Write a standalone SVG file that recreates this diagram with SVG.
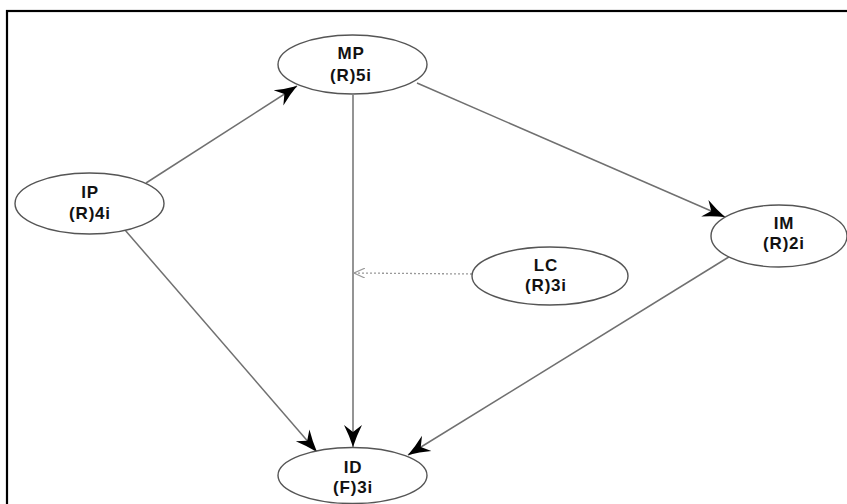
<svg xmlns="http://www.w3.org/2000/svg" width="847" height="504" viewBox="0 0 847 504">
<style>
.node ellipse{fill:#fff;stroke:#555;stroke-width:1.4}
.node text{font-family:"Liberation Sans",Arial,sans-serif;font-weight:bold;font-size:17px;fill:#111;text-anchor:middle;letter-spacing:0.8px}
.edge{stroke:#707070;stroke-width:1.5;fill:none}
.dot{stroke:#999;stroke-width:1.3;fill:none;stroke-dasharray:2 2}
</style>
<defs>
<marker id="arr" markerUnits="userSpaceOnUse" markerWidth="24" markerHeight="20" refX="22" refY="10" orient="auto">
<path d="M0,1 Q11,6.5 22,10 Q11,13.5 0,19 L7,10 Z" fill="#000"/>
</marker>
<marker id="open" markerUnits="userSpaceOnUse" markerWidth="12" markerHeight="10" refX="11" refY="5" orient="auto">
<path d="M0,0 L11,5 L0,10" fill="none" stroke="#999" stroke-width="1.2"/>
</marker>
</defs>
<rect x="7" y="11" width="900" height="520" fill="none" stroke="#000" stroke-width="2.2"/>
<g id="connectors">
<line class="edge" x1="146" y1="183" x2="297" y2="86" marker-end="url(#arr)"/>
<line class="edge" x1="417" y1="83" x2="725" y2="217" marker-end="url(#arr)"/>
<line class="edge" x1="125" y1="230" x2="317" y2="452" marker-end="url(#arr)"/>
<line class="edge" x1="353" y1="95" x2="353" y2="447" marker-end="url(#arr)"/>
<line class="edge" x1="732" y1="255" x2="408" y2="455" marker-end="url(#arr)"/>
<line class="dot" x1="472" y1="274" x2="354" y2="273" marker-end="url(#open)"/>
</g>
<g id="MP" class="node"><ellipse cx="352.5" cy="64.5" rx="74.5" ry="29.5"/><text x="351" y="59">MP</text><text x="351" y="81">(R)5i</text></g>
<g id="IP" class="node"><ellipse cx="89.5" cy="203.5" rx="74.5" ry="30.5"/><text x="90" y="198">IP</text><text x="90" y="219">(R)4i</text></g>
<g id="IM" class="node"><ellipse cx="779" cy="236" rx="68" ry="31"/><text x="784" y="229">IM</text><text x="784" y="249">(R)2i</text></g>
<g id="LC" class="node"><ellipse cx="550" cy="276" rx="78" ry="29"/><text x="546" y="271">LC</text><text x="546" y="291">(R)3i</text></g>
<g id="ID" class="node"><ellipse cx="352.5" cy="475.5" rx="74.5" ry="28"/><text x="353" y="473">ID</text><text x="353" y="493">(F)3i</text></g>
</svg>
